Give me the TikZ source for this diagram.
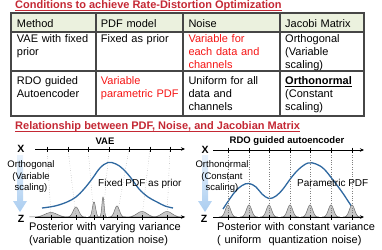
\documentclass[tikz,border=0pt]{standalone}
\usepackage{fontspec}
\setmainfont{Liberation Sans}
\usetikzlibrary{arrows.meta}
\definecolor{titlered}{RGB}{196,40,52}
\definecolor{hotred}{RGB}{245,20,20}
\definecolor{headgreen}{RGB}{235,241,222}
\definecolor{gridgray}{RGB}{70,70,70}
\definecolor{pdfblue}{RGB}{46,104,160}
\definecolor{arrowblue}{RGB}{170,205,240}
\definecolor{arrowpale}{RGB}{232,242,252}
\definecolor{bumpfill}{RGB}{200,200,200}
\definecolor{bumpline}{RGB}{110,110,110}
\begin{document}
\begin{tikzpicture}[x=1pt,y=-1pt,
  titletext/.style={font=\fontsize{11}{13}\selectfont\bfseries, text=titlered, anchor=base west, inner sep=0pt},
  celltext/.style={font=\fontsize{11}{13}\selectfont, anchor=base west, inner sep=0pt, align=left, text width=80pt},
  axislbl/.style={font=\fontsize{10.5}{12}\selectfont\bfseries, inner sep=0pt},
  plotlbl/.style={font=\fontsize{9.5}{11}\selectfont\bfseries, inner sep=0pt},
  sidetext/.style={font=\fontsize{9.5}{11.5}\selectfont, align=center, text width=60pt, inner sep=0pt, anchor=base},
  pdftext/.style={font=\fontsize{10}{12}\selectfont, anchor=base west, inner sep=0pt},
  bottomtext/.style={font=\fontsize{11}{13}\selectfont, anchor=base west, inner sep=0pt, align=left, text width=170pt},
  axisline/.style={line width=0.8pt, black, -{Stealth[length=4pt,width=3.5pt]}},
  tickmark/.style={line width=0.5pt, black},
  guide/.style={gray, line width=0.4pt, dotted},
  bump/.style={fill=bumpfill, draw=bumpline, line width=0.5pt},
  pdfcurve/.style={pdfblue, line width=1.3pt},
  grid/.style={gridgray, line width=1.1pt}
]
\useasboundingbox (0,0) rectangle (382,249);

% ---------- Title 1 and table ----------
\node[titletext] (t1) at (15,8.5) {Conditions to achieve Rate-Distortion Optimization};
\draw[titlered, line width=0.7pt] ([yshift=-1.6pt]t1.base west) -- ([yshift=-1.6pt]t1.base east);

\fill[headgreen] (11,13) rectangle (364,32);
\draw[grid] (11,13) rectangle (364,116);
\draw[grid] (11,32) -- (364,32);
\draw[grid] (11,71) -- (364,71);
\draw[grid] (96,13) -- (96,116);
\draw[grid] (183,13) -- (183,116);
\draw[grid] (280,13) -- (280,116);

\node[celltext] (h1) at (16.7,27) {Method};
\node[celltext] (h2) at (100.7,27) {PDF model};
\node[celltext] (h3) at (188.3,27) {Noise};
\node[celltext] (h4) at (285,27) {Jacobi Matrix};

\node[celltext] (a1) at (16.7,42.7) {VAE with fixed\\prior};
\node[celltext] (a2) at (100.7,42.7) {Fixed as prior};
\node[celltext, text=hotred] (a3) at (188.3,42.7) {Variable for\\each data and\\channels};
\node[celltext] (a4) at (285,42.7) {Orthogonal\\(Variable\\scaling)};

\node[celltext] (b1) at (16.7,84.3) {RDO guided\\Autoencoder};
\node[celltext, text=hotred] (b2) at (100.7,84.3) {Variable\\parametric PDF};
\node[celltext] (b3) at (188.3,84.3) {Uniform for all\\data and\\channels};
\node[celltext] (b4) at (285,84.3) {\underline{\textbf{Orthonormal}}\\(Constant\\scaling)};

% ---------- Title 2 ----------
\node[titletext] (t2) at (15,129.3) {Relationship between PDF, Noise, and Jacobian Matrix};
\draw[titlered, line width=0.7pt] ([yshift=-1.8pt]t2.base west) -- ([yshift=-1.8pt]t2.base east);

% ---------- VAE panel ----------
\shade[top color=arrowpale, bottom color=arrowblue]
  (17,155) -- (23,155) -- (23,201) -- (27,201) -- (20,212) -- (13,201) -- (17,201) -- cycle;

\node[plotlbl] (vaelbl) at (105,141) {VAE};
\node[axislbl] (xa) at (21,148.5) {X};
\node[axislbl] (za) at (21,218.5) {Z};
\coordinate (xa0) at (35,149);
\coordinate (xa1) at (185,149);
\coordinate (za0) at (35,217);
\coordinate (za1) at (185,217);

% PDF curve
\draw[pdfcurve] plot[smooth, tension=0.6] coordinates {
  (42,208) (55,206) (67,202) (76,197) (84,189) (92,179) (100,168) (108,162.5)
  (116,164) (123,169) (131,178) (139,189) (148,197) (157,202) (165,206) (173,208)};

% bumps
\foreach \c/\s/\h/\t in {51/6/4.5/47, 76/2.8/10/68, 94/1.6/15/88, 103/1.1/20/109, 117/2.4/11/129, 142/5/5.5/150, 167/5/5.5/170}{
  \pgfmathsetmacro\lo{\c-3.6*\s}
  \pgfmathsetmacro\hi{\c+3.6*\s}
  \filldraw[bump] plot[domain=\lo:\hi, samples=41] (\x, {217-\h*exp(-((\x-\c)*(\x-\c))/(2*\s*\s))}) -- cycle;
  \draw[guide] (\t,149) -- (\c,217);
  \draw[tickmark] (\t,146.5) -- (\t,151.5);
  \draw[tickmark] (\c,215) -- (\c,219.5);
}
\draw[axisline] (xa0) -- (xa1);
\draw[axisline] (za0) -- (za1);

\node[sidetext] (vaeside) at (31,167.5) {Orthogonal\\(Variable\\scaling)};
\node[pdftext] (vaepdf) at (98,186.6) {Fixed PDF as prior};
\node[bottomtext] (vaepost) at (29,230.5) {Posterior with varying variance\\(variable quantization noise)};

% ---------- RDO panel ----------
\shade[top color=arrowpale, bottom color=arrowblue]
  (202,155) -- (208,155) -- (208,201) -- (212,201) -- (205,212) -- (198,201) -- (202,201) -- cycle;

\node[plotlbl] (rdolbl) at (287,141) {RDO guided autoencoder};
\node[axislbl] (xb) at (205,149.5) {X};
\node[axislbl] (zb) at (204,218.5) {Z};
\coordinate (xb0) at (213,150);
\coordinate (xb1) at (364,150);
\coordinate (zb0) at (213,217);
\coordinate (zb1) at (364,217);

\draw[pdfcurve] plot[smooth, tension=0.6] coordinates {
  (223,209) (234,193) (242,185.5) (249,183.5) (256,187) (262,194) (269,198.5) (276,196)
  (283,189) (291,178) (299,169) (308,163) (316,164) (324,169) (333,180) (342,192) (348,201) (354,210)};

\foreach \c in {228,249,269,290,310,331,352}{
  \pgfmathsetmacro\lo{\c-9}
  \pgfmathsetmacro\hi{\c+9}
  \filldraw[bump] plot[domain=\lo:\hi, samples=41] (\x, {217-12*exp(-((\x-\c)*(\x-\c))/(2*2.6*2.6))}) -- cycle;
  \draw[guide] (\c,150) -- (\c,217);
  \draw[tickmark] (\c,147.5) -- (\c,152.5);
  \draw[tickmark] (\c,215) -- (\c,219.5);
}
\draw[axisline] (xb0) -- (xb1);
\draw[axisline] (zb0) -- (zb1);

\node[sidetext] (rdoside) at (222,167.5) {Orthonormal\\(Constant\\scaling)};
\node[pdftext] (rdopdf) at (297,186.6) {Parametric PDF};
\node[bottomtext] (rdopost) at (217,230.5) {Posterior with constant variance\\( uniform~ quantization noise)};
\end{tikzpicture}
\end{document}
